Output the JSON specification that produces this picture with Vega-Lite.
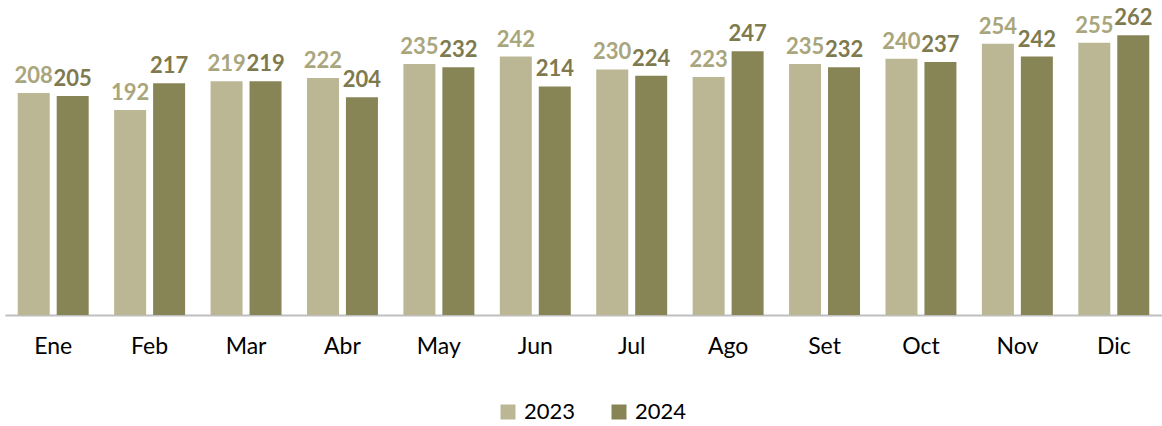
{
  "$schema": "https://vega.github.io/schema/vega-lite/v6.json",
  "width": 1157,
  "height": 315,
  "autosize": {"type": "none"},
  "padding": {"left": 5, "top": 0, "right": 0, "bottom": 111},
  "background": "white",
  "config": {"view": {"stroke": null}, "font": "Lato"},
  "data": {
    "values": [
      {"mes": "Ene", "anio": "2023", "valor": 208}, {"mes": "Ene", "anio": "2024", "valor": 205},
      {"mes": "Feb", "anio": "2023", "valor": 192}, {"mes": "Feb", "anio": "2024", "valor": 217},
      {"mes": "Mar", "anio": "2023", "valor": 219}, {"mes": "Mar", "anio": "2024", "valor": 219},
      {"mes": "Abr", "anio": "2023", "valor": 222}, {"mes": "Abr", "anio": "2024", "valor": 204},
      {"mes": "May", "anio": "2023", "valor": 235}, {"mes": "May", "anio": "2024", "valor": 232},
      {"mes": "Jun", "anio": "2023", "valor": 242}, {"mes": "Jun", "anio": "2024", "valor": 214},
      {"mes": "Jul", "anio": "2023", "valor": 230}, {"mes": "Jul", "anio": "2024", "valor": 224},
      {"mes": "Ago", "anio": "2023", "valor": 223}, {"mes": "Ago", "anio": "2024", "valor": 247},
      {"mes": "Set", "anio": "2023", "valor": 235}, {"mes": "Set", "anio": "2024", "valor": 232},
      {"mes": "Oct", "anio": "2023", "valor": 240}, {"mes": "Oct", "anio": "2024", "valor": 237},
      {"mes": "Nov", "anio": "2023", "valor": 254}, {"mes": "Nov", "anio": "2024", "valor": 242},
      {"mes": "Dic", "anio": "2023", "valor": 255}, {"mes": "Dic", "anio": "2024", "valor": 262}
    ]
  },
  "encoding": {
    "x": {
      "field": "mes", "type": "nominal", "sort": null,
      "scale": {"paddingInner": 0.264, "paddingOuter": 0.132},
      "axis": {
        "title": null, "labelAngle": 0, "ticks": false,
        "domainColor": "#BFBFBF", "domainWidth": 2,
        "labelFontSize": 23, "labelColor": "#000000", "labelPadding": 20,
        "labelFont": "Lato"
      }
    },
    "xOffset": {"field": "anio", "type": "nominal", "scale": {"paddingInner": 0.179, "paddingOuter": 0}},
    "y": {"field": "valor", "type": "quantitative", "scale": {"domain": [0, 295], "nice": false}, "axis": null}
  },
  "layer": [
    {
      "mark": {"type": "bar"},
      "encoding": {
        "color": {
          "field": "anio", "type": "nominal",
          "scale": {"domain": ["2023", "2024"], "range": ["#BBB794", "#878456"]},
          "legend": {
            "title": null, "orient": "none", "direction": "horizontal",
            "legendX": 492, "legendY": 401,
            "symbolType": "square", "symbolSize": 225, "symbolStrokeWidth": 0,
            "labelFontSize": 22, "labelColor": "#000000", "labelOffset": 5,
            "columnPadding": 32, "padding": 0, "labelFont": "Lato"
          }
        }
      }
    },
    {
      "mark": {"type": "text", "baseline": "bottom", "dy": -5, "fontSize": 22, "fontWeight": "bold", "font": "Lato"},
      "encoding": {
        "text": {"field": "valor", "type": "quantitative"},
        "color": {
          "field": "anio", "type": "nominal",
          "scale": {"domain": ["2023", "2024"], "range": ["#A9A57D", "#7E7A4E"]},
          "legend": null
        }
      }
    }
  ],
  "resolve": {"scale": {"color": "independent"}}
}
